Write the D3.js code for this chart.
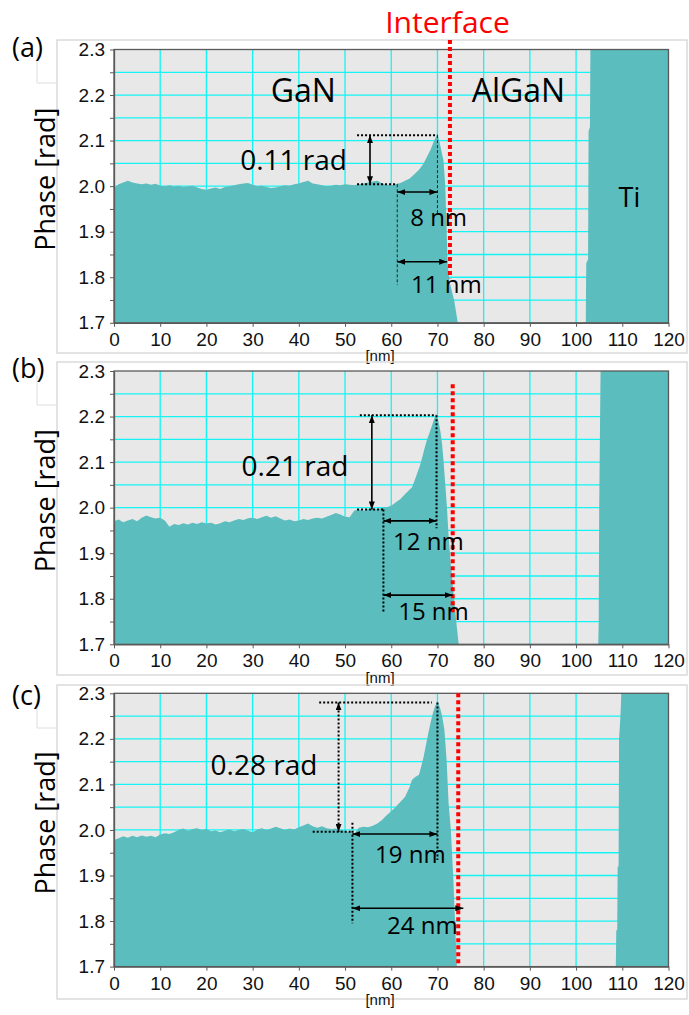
<!DOCTYPE html>
<html>
<head>
<meta charset="utf-8">
<script src="https://cdn.jsdelivr.net/npm/d3@7"></script>
<style>
  body { margin: 0; background: #fff; }
  svg { display: block; }
</style>
</head>
<body>
<svg id="chart" width="689" height="1015"></svg>
<script>
// tick values
var xTicks = [0, 10, 20, 30, 40, 50, 60, 70, 80, 90, 100, 110, 120];
var yTicks = [1.7, 1.75, 1.8, 1.85, 1.9, 1.95, 2.0, 2.05, 2.1, 2.15, 2.2, 2.25, 2.3];

// phase profiles [nm, rad]
var profileA = [
  [0,1.996],[1,2.004],[2,2.008],[3,2.012],[4,2.008],[5,2.006],[6,2.004],[7,2.006],[8,2.003],[9,2.005],
  [10,2.001],[11,2.000],[12,2.002],[13,1.999],[14,2.001],[15,1.998],[16,2.000],[17,2.001],[18,1.997],[19,1.994],
  [20,1.992],[21,1.995],[22,1.997],[23,1.994],[24,1.998],[25,2.000],[26,2.002],[27,2.004],[28,2.006],[29,2.007],
  [30,2.003],[31,2.000],[32,2.001],[33,1.998],[34,1.996],[35,1.997],[36,2.000],[37,2.002],[38,2.001],[39,2.004],
  [40,2.006],[41,2.009],[42,2.012],[43,2.006],[44,2.004],[45,2.002],[46,2.000],[47,2.001],[48,2.003],[49,2.002],
  [50,2.004],[51,2.003],[52,2.002],[53,2.004],[54,2.006],[55,2.008],[56,2.010],[57,2.012],[58,2.006],[59,2.003],
  [60,2.002],[61,2.004],[62,2.007],[63,2.012],[64,2.017],[65,2.026],[66,2.036],[67,2.050],[67.7,2.064],[68.5,2.080],
  [69.2,2.098],[70,2.115],[70.5,2.095],[71,2.070],[71.3,2.057],[71.7,2.000],[72.2,1.830],[72.6,1.790],[73.6,1.750],[74.4,1.700],
  [74.6,1.650],[102.1,1.650],[102.2,1.830],[102.6,1.840],[102.7,2.120],[103.0,2.130],[103.1,2.400],[120,2.400]
];
var profileB = [
  [0,1.970],[1,1.974],[2,1.968],[3,1.972],[4,1.975],[5,1.970],[6,1.978],[7,1.983],[8,1.979],[9,1.976],
  [10,1.978],[11,1.972],[12,1.958],[13,1.964],[14,1.962],[15,1.966],[16,1.963],[17,1.967],[18,1.964],[19,1.968],
  [20,1.965],[21,1.967],[22,1.963],[23,1.966],[24,1.970],[25,1.968],[26,1.972],[27,1.975],[28,1.973],[29,1.977],
  [30,1.978],[31,1.975],[32,1.979],[33,1.982],[34,1.978],[35,1.981],[36,1.976],[37,1.972],[38,1.974],[39,1.970],
  [40,1.972],[41,1.975],[42,1.973],[43,1.976],[44,1.978],[45,1.976],[46,1.980],[47,1.984],[48,1.988],[49,1.985],
  [50,1.980],[51,1.979],[52,1.994],[53,1.996],[54,1.993],[55,1.997],[56,1.998],[57,1.996],[58,2.000],[59,2.001],
  [60,2.004],[61,2.012],[62,2.019],[63,2.030],[64,2.040],[64.5,2.045],[65,2.058],[65.6,2.075],[66.2,2.092],[66.7,2.110],
  [67.2,2.130],[67.7,2.148],[68.3,2.165],[68.8,2.180],[69.3,2.195],[69.7,2.203],[70.2,2.190],[70.6,2.170],[71.0,2.140],[71.3,2.104],
  [71.7,2.050],[72.0,2.009],[72.4,1.940],[72.8,1.884],[73.5,1.810],[74.2,1.737],[74.6,1.700],[74.8,1.650],
  [104.8,1.650],[104.9,1.750],[105.0,2.000],[105.2,2.200],[105.3,2.400],[120,2.400]
];
var profileC = [
  [0,1.978],[1,1.982],[2,1.986],[3,1.983],[4,1.987],[5,1.984],[6,1.988],[7,1.985],[8,1.987],[9,1.984],
  [10,1.990],[11,1.993],[12,1.991],[13,1.995],[14,2.000],[15,2.003],[16,1.998],[17,2.002],[18,2.004],[19,2.000],
  [20,2.002],[21,1.997],[22,1.999],[23,1.995],[24,1.998],[25,2.001],[26,1.997],[27,2.000],[28,2.002],[29,1.998],
  [30,1.995],[31,2.001],[32,2.004],[33,2.000],[34,2.003],[35,2.007],[36,2.004],[37,2.000],[38,2.003],[39,2.001],
  [40,2.006],[41,2.010],[42,2.014],[43,2.008],[44,2.005],[45,2.008],[46,2.004],[47,2.002],[48,2.003],[49,2.000],
  [50,1.998],[51,1.995],[52,1.992],[53,2.005],[54,2.007],[55,2.006],[56,2.009],[57,2.014],[58,2.022],[59,2.032],
  [60,2.041],[61,2.051],[62,2.062],[63,2.073],[64,2.095],[64.5,2.110],[65.2,2.116],[66,2.121],[66.5,2.140],[67,2.160],
  [67.5,2.186],[68,2.212],[68.5,2.235],[69,2.256],[69.5,2.272],[70,2.282],[70.5,2.270],[71,2.250],[71.5,2.220],[72,2.150],
  [72.4,2.060],[72.9,2.000],[73.4,1.900],[73.8,1.800],[74.2,1.700],[74.4,1.650],
  [108.6,1.650],[108.7,1.780],[108.9,1.780],[109.0,1.920],[109.2,1.920],[109.3,2.200],[109.6,2.250],[109.8,2.400],[120,2.400]
];

var teal = "#5bbdbd", cyan = "#14f4f4", plotBg = "#e8e8e8";
var calibriLike = "'Open Sans', 'Noto Sans', sans-serif";
var arialLike = "'Liberation Sans', Arial, sans-serif";

var panels = [
  {
    label: "(a)", top: 49.5, frameTop: 40, frameBottom: 353, data: profileA,
    red: [72.7, 2.321, 1.798],
    dots: [[52.6, 2.112, 70.0, 2.112], [52.6, 2.004, 61.3, 2.004]],
    thin: [[70.0, 2.112, 70.0, 1.941], [61.3, 2.004, 61.3, 1.783]],
    arrows: [[55.4, 2.112, 55.4, 2.004, false], [61.3, 1.987, 70.0, 1.987, false], [61.3, 1.834, 72.1, 1.834, false]],
    texts: [["GaN", 33.9, 2.185, 32], ["AlGaN", 77.4, 2.185, 32], ["Ti", 109.2, 1.955, 27],
            ["0.11 rad", 27.3, 2.036, 28], ["8 nm", 64.1, 1.913, 24], ["11 nm", 64.3, 1.766, 24]]
  },
  {
    label: "(b)", top: 371, frameTop: 362, frameBottom: 675, data: profileB,
    red: [73.3, 2.271, 1.769],
    dots: [[53.2, 2.203, 69.7, 2.203], [52.6, 1.996, 58.3, 1.996], [58.3, 1.996, 58.3, 1.772], [69.8, 2.203, 69.8, 1.955]],
    thin: [],
    arrows: [[55.8, 2.203, 55.8, 1.996, false], [58.3, 1.971, 69.8, 1.971, false], [58.3, 1.808, 73.3, 1.808, false]],
    texts: [["0.21 rad", 27.6, 2.070, 28], ["12 nm", 60.4, 1.907, 24], ["15 nm", 61.5, 1.754, 24]]
  },
  {
    label: "(c)", top: 693.3, frameTop: 685, frameBottom: 999, data: profileC,
    red: [74.5, 2.3, 1.7],
    dots: [[44.4, 2.280, 68.8, 2.280], [43.0, 1.996, 51.8, 1.996], [51.6, 2.016, 51.6, 1.795], [70.0, 2.280, 70.0, 1.934]],
    thin: [],
    arrows: [[48.6, 2.280, 48.6, 1.996, true], [51.6, 1.991, 70.0, 1.991, false], [51.6, 1.828, 75.6, 1.828, false]],
    texts: [["0.28 rad", 20.9, 2.121, 28], ["19 nm", 56.5, 1.927, 24], ["24 nm", 59.1, 1.772, 24]]
  }
];

var svg = d3.select("#chart");
var x = d3.scaleLinear().domain([0, 120]).range([114, 668.5]);
var plotH = 273.3;

svg.append("defs").append("marker")
  .attr("id", "head")
  .attr("viewBox", "0 0 8 6")
  .attr("refX", 8).attr("refY", 3)
  .attr("markerWidth", 8).attr("markerHeight", 6)
  .attr("markerUnits", "userSpaceOnUse")
  .attr("orient", "auto-start-reverse")
  .append("path").attr("d", "M0,0L8,3L0,6Z").attr("fill", "#000");

// title
svg.append("text")
  .attr("x", 447.5).attr("y", 33)
  .attr("text-anchor", "middle")
  .style("font-family", calibriLike).style("font-size", "30px")
  .attr("fill", "#ff0000")
  .text("Interface");

panels.forEach(function (p, i) {
  var y = d3.scaleLinear().domain([1.7, 2.3]).range([p.top + plotH, p.top]);
  var yc = y.copy().clamp(true);
  var g = svg.append("g");

  // panel frame
  g.append("rect")
    .attr("x", 57).attr("y", p.frameTop)
    .attr("width", 630).attr("height", p.frameBottom - p.frameTop)
    .attr("fill", "none").attr("stroke", "#d4d4d4").attr("stroke-width", 1.3);
  g.append("path")
    .attr("d", "M57," + (p.frameTop + 43) + "H37V" + (p.frameTop + 14))
    .attr("fill", "none").attr("stroke", "#dedede").attr("stroke-width", 1);

  // plot background
  g.append("rect")
    .attr("x", x(0)).attr("y", y(2.3))
    .attr("width", x(120) - x(0)).attr("height", y(1.7) - y(2.3))
    .attr("fill", plotBg);

  // grid
  g.selectAll(".vgrid").data(xTicks.slice(1, -1)).enter().append("line")
    .attr("x1", function (d) { return x(d); }).attr("x2", function (d) { return x(d); })
    .attr("y1", y(2.3)).attr("y2", y(1.7))
    .attr("stroke", cyan).attr("stroke-width", 1.3);
  g.selectAll(".hgrid").data(yTicks.slice(1, -1)).enter().append("line")
    .attr("x1", x(0)).attr("x2", x(120))
    .attr("y1", function (d) { return y(d); }).attr("y2", function (d) { return y(d); })
    .attr("stroke", cyan).attr("stroke-width", 1.3);

  // profile
  var area = d3.area()
    .x(function (d) { return x(d[0]); })
    .y0(y(1.7))
    .y1(function (d) { return yc(d[1]); });
  g.append("path").datum(p.data)
    .attr("d", area)
    .attr("fill", teal);

  // plot border
  g.append("rect")
    .attr("x", x(0)).attr("y", y(2.3))
    .attr("width", x(120) - x(0)).attr("height", y(1.7) - y(2.3))
    .attr("fill", "none").attr("stroke", "#5a5a5a").attr("stroke-width", 1.3);

  // axes
  var yAxis = d3.axisLeft(y).tickValues(yTicks).tickSize(4).tickSizeOuter(0).tickPadding(5)
    .tickFormat(function (d) {
      return Math.abs(d * 10 - Math.round(d * 10)) < 1e-6 ? d3.format(".1f")(d) : "";
    });
  var ya = g.append("g").attr("transform", "translate(" + x(0) + ",0)").call(yAxis);
  var xAxis = d3.axisBottom(x).tickValues(xTicks).tickSize(4).tickSizeOuter(0).tickPadding(5.5);
  var xa = g.append("g").attr("transform", "translate(0," + y(1.7) + ")").call(xAxis);
  [ya, xa].forEach(function (a) {
    a.select(".domain").attr("stroke", "#5a5a5a").attr("stroke-width", 1.3);
    a.selectAll(".tick line").attr("stroke", "#5a5a5a");
    a.selectAll(".tick text").attr("fill", "#111").style("font-family", arialLike).style("font-size", "19px");
  });

  g.append("text")
    .attr("x", 380).attr("y", y(1.7) + 38.5)
    .attr("text-anchor", "middle")
    .style("font-family", arialLike).style("font-size", "15px")
    .attr("fill", "#111")
    .text("[nm]");

  g.append("text")
    .attr("transform", "translate(55," + (p.top + plotH / 2 - 7) + ") rotate(-90)")
    .attr("text-anchor", "middle")
    .style("font-family", calibriLike).style("font-size", "27px")
    .attr("fill", "#000")
    .text("Phase [rad]");

  g.append("text")
    .attr("x", 12).attr("y", p.top + (i === 2 ? 12 : 7))
    .style("font-family", calibriLike).style("font-size", "27px")
    .attr("fill", "#000")
    .text(p.label);

  // annotations
  g.append("line")
    .attr("x1", x(p.red[0])).attr("x2", x(p.red[0]))
    .attr("y1", y(p.red[1])).attr("y2", y(p.red[2]))
    .attr("stroke", "#ff0000").attr("stroke-width", 4).attr("stroke-dasharray", "4,3");

  p.dots.forEach(function (d) {
    g.append("line")
      .attr("x1", x(d[0])).attr("y1", y(d[1])).attr("x2", x(d[2])).attr("y2", y(d[3]))
      .attr("stroke", "#000").attr("stroke-width", 2).attr("stroke-dasharray", "2,2");
  });
  p.thin.forEach(function (d) {
    g.append("line")
      .attr("x1", x(d[0])).attr("y1", y(d[1])).attr("x2", x(d[2])).attr("y2", y(d[3]))
      .attr("stroke", "#222").attr("stroke-width", 1).attr("stroke-dasharray", "3,2");
  });
  p.arrows.forEach(function (d) {
    g.append("line")
      .attr("x1", x(d[0])).attr("y1", y(d[1])).attr("x2", x(d[2])).attr("y2", y(d[3]))
      .attr("stroke", "#000").attr("stroke-width", d[4] ? 2 : 1.6)
      .attr("stroke-dasharray", d[4] ? "2,2" : null)
      .attr("marker-start", "url(#head)").attr("marker-end", "url(#head)");
  });
  p.texts.forEach(function (t) {
    g.append("text")
      .attr("x", x(t[1])).attr("y", y(t[2]))
      .style("font-family", calibriLike).style("font-size", t[3] + "px")
      .attr("fill", "#000")
      .text(t[0]);
  });
});
</script>
</body>
</html>
